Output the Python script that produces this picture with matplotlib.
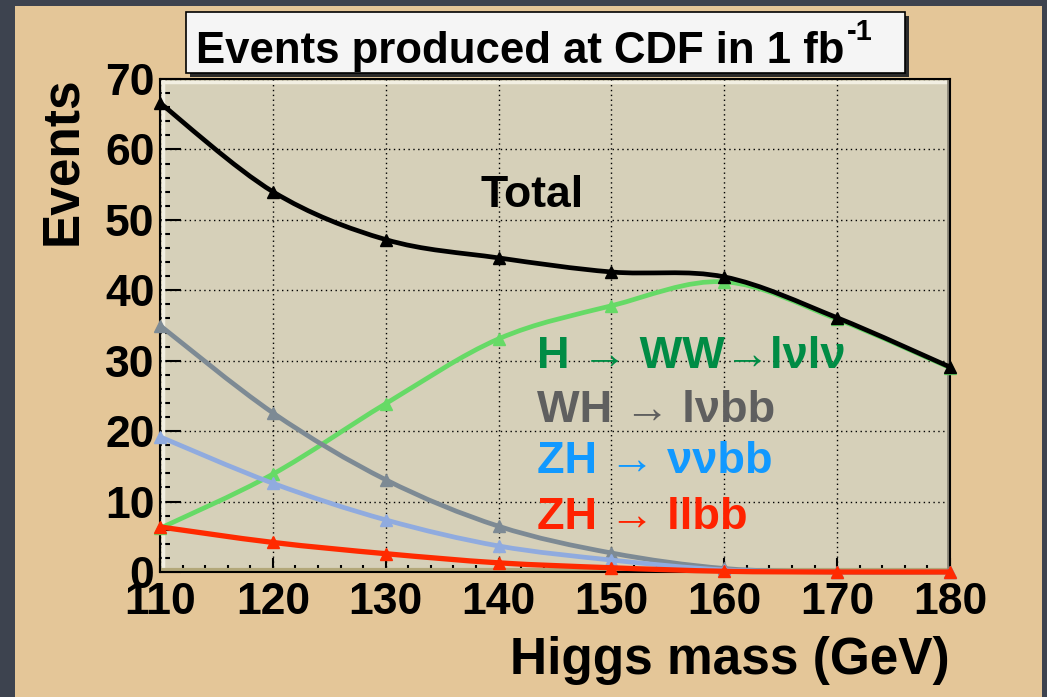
import numpy as np
import matplotlib
matplotlib.use('Agg')
import matplotlib.pyplot as plt
from matplotlib.path import Path
from matplotlib.patches import PathPatch, Rectangle
from matplotlib.ticker import MultipleLocator
from matplotlib.lines import Line2D
from matplotlib.transforms import offset_copy

plt.rcParams['font.family'] = ['Liberation Sans', 'DejaVu Sans']
plt.rcParams['font.weight'] = 'bold'

# Higgs mass points (GeV) and expected events in 1 fb^-1
mass = [110, 120, 130, 140, 150, 160, 170, 180]
total = [66.6, 54.0, 47.2, 44.6, 42.6, 41.9, 36.1, 29.1]
h_ww = [6.2, 13.9, 23.9, 33.1, 37.8, 41.2, 35.9, 29.0]
wh_lvbb = [35.0, 22.6, 13.1, 6.5, 2.7, 0.5, 0.0, 0.0]
zh_vvbb = [19.2, 12.6, 7.4, 3.7, 1.7, 0.3, 0.0, 0.0]
zh_llbb = [6.4, 4.2, 2.6, 1.3, 0.6, 0.1, 0.0, 0.0]

x_ticks = [110, 120, 130, 140, 150, 160, 170, 180]
y_ticks = [0, 10, 20, 30, 40, 50, 60, 70]


def smooth_path(xs, ys):
    # smooth curve through the points (like ROOT's "C" draw option)
    pts = np.column_stack([xs, ys]).astype(float)
    ext = np.vstack([pts[0], pts, pts[-1]])
    verts = [pts[0]]
    codes = [Path.MOVETO]
    for i in range(len(pts) - 1):
        p0, p1, p2, p3 = ext[i], ext[i + 1], ext[i + 2], ext[i + 3]
        verts += [p1 + (p2 - p0) / 6, p2 - (p3 - p1) / 6, p2]
        codes += [Path.CURVE4] * 3
    return Path(verts, codes)


W, H = 1047, 697
fig = plt.figure(figsize=(W / 100, H / 100), dpi=100, facecolor='#3d434f')

# tan canvas
fig.add_artist(Rectangle((15 / W, 0), (1042 - 15) / W, 1 - 6 / H,
                         transform=fig.transFigure, facecolor='#e4c698',
                         edgecolor='none', zorder=0))

ax = fig.add_axes([160 / W, 1 - 572 / H, 790 / W, 493 / H])
ax.set_facecolor('#d6d0b9')
ax.set_xlim(110, 180)
ax.set_ylim(0, 70)

series = [
    (h_ww, '#66da66', 3.4, 3),
    (wh_lvbb, '#7d8a94', 3.4, 4),
    (zh_vvbb, '#90abdf', 3.4, 5),
    (zh_llbb, '#ff2a00', 3.8, 6),
    (total, 'black', 3.4, 7),
]
for ys, c, lw, z in series:
    ax.add_patch(PathPatch(smooth_path(mass, ys), fill=False, edgecolor=c,
                           lw=lw, zorder=z, clip_on=False))
    ax.plot(mass, ys, linestyle='none', marker='^', ms=8.5, color=c,
            zorder=z + 0.5, clip_on=False)

ax.set_xticks(x_ticks)
ax.set_yticks(y_ticks)
ax.xaxis.set_minor_locator(MultipleLocator(2))
ax.yaxis.set_minor_locator(MultipleLocator(2))
ax.tick_params(axis='both', which='both', direction='in', colors='black',
               width=1.5, labelsize=32)
ax.tick_params(axis='y', which='major', length=15, pad=4)
ax.tick_params(axis='y', which='minor', length=7.5)
ax.tick_params(axis='x', which='major', length=10, pad=7)
ax.tick_params(axis='x', which='minor', length=5)
ax.tick_params(top=False, right=False)
for lab in ax.get_xticklabels() + ax.get_yticklabels():
    lab.set_fontweight('bold')

ax.grid(True, which='major', color='black', linestyle=(0, (1, 2.5)), linewidth=1)
ax.set_axisbelow(True)
for s in ax.spines.values():
    s.set_linewidth(1.5)
    s.set_color('black')
    s.set_zorder(2.5)

# ROOT-like frame bevel
tl = offset_copy(ax.transAxes, fig=fig, x=2.5, y=0, units='dots')
ax.add_line(Line2D([0, 0], [0, 1], transform=tl, color='#f2efe2', lw=2.5, zorder=2))
tt = offset_copy(ax.transAxes, fig=fig, x=0, y=-2.5, units='dots')
ax.add_line(Line2D([0, 1], [1, 1], transform=tt, color='#f2efe2', lw=2.5, zorder=2))
tb = offset_copy(ax.transAxes, fig=fig, x=0, y=2.5, units='dots')
ax.add_line(Line2D([0, 1], [0, 0], transform=tb, color='#b3a87a', lw=3, zorder=2))
tr = offset_copy(ax.transAxes, fig=fig, x=-2, y=0, units='dots')
ax.add_line(Line2D([1, 1], [0, 1], transform=tr, color='#8a8578', lw=2, zorder=2))

# annotations
ax.text(138.4, 53.5, 'Total', fontsize=32, fontweight='bold', color='black',
        va='center', ha='left', zorder=8)
labels = [
    ('H \u2192 WW\u2192l\u03bdl\u03bd', 30.6, '#008c45'),
    ('WH \u2192 l\u03bdbb', 23.0, '#5f5f5f'),
    ('ZH \u2192 \u03bd\u03bdbb', 15.7, '#1199ff'),
    ('ZH \u2192 llbb', 7.8, '#ff2200'),
]
for txt, yv, c in labels:
    ax.text(143.4, yv, txt, fontsize=32.5, fontweight='bold', color=c,
            va='center', ha='left', zorder=8)

# axis titles
fig.text(63 / W, 1 - 76 / H, 'Events', rotation=90, fontsize=37,
         fontweight='bold', ha='center', va='top')
fig.text(950 / W, 1 - 674 / H, 'Higgs mass (GeV)', fontsize=37,
         fontweight='bold', ha='right', va='baseline')

# title box with shadow
bx0, bx1, by0, by1 = 186, 905, 12, 73
fig.add_artist(Rectangle(((bx0 + 4) / W, 1 - (by1 + 4) / H), (bx1 - bx0) / W,
                         (by1 - by0) / H, transform=fig.transFigure,
                         facecolor='#2a2a2a', edgecolor='none', zorder=5))
fig.add_artist(Rectangle((bx0 / W, 1 - by1 / H), (bx1 - bx0) / W,
                         (by1 - by0) / H, transform=fig.transFigure,
                         facecolor='#f5f5f5', edgecolor='black', lw=1.2,
                         zorder=6))
title = fig.text(196 / W, 1 - 63 / H, 'Events produced at CDF in 1 fb',
                 fontsize=31.5, fontweight='bold', ha='left', va='baseline',
                 zorder=7)
renderer = fig.canvas.get_renderer()
bb = title.get_window_extent(renderer=renderer)
fig.text((bb.x1 + 2) / W, 1 - 40 / H, '-1', fontsize=21, fontweight='bold',
         ha='left', va='baseline', zorder=7)

fig.savefig('out.png', dpi=100, facecolor=fig.get_facecolor())
